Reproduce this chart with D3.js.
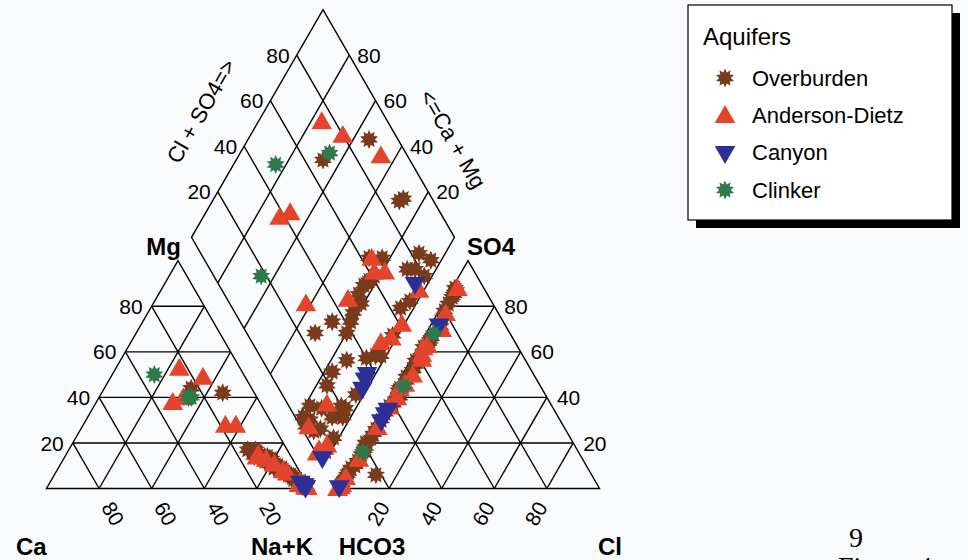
<!DOCTYPE html>
<html><head><meta charset="utf-8">
<script src="https://cdn.jsdelivr.net/npm/d3@7"></script>
<style>
html,body{margin:0;padding:0;background:#f9fafc;}
svg{display:block;}
text{font-family:Arial,"Liberation Sans",sans-serif;fill:#000;}
</style></head>
<body><svg id="c" width="968" height="560"></svg>
<script>
// ---- data: each sample = [Ca, Mg, Cl, SO4] in percent of meq (Na+K and HCO3 are the remainders)
const seriesNames = ["Overburden", "Anderson-Dietz", "Canyon", "Clinker"];
const overburden = [
  [12,42,2,87],[23,44,3,64],[12,17,2,85],[10,13,3,65],[9,14,3,54],[11,13,2,49],
  [8,13,3,47],[9,13,2,43],[7,10,2,22],[4,6,2,81],[5,6,4,71],[3,4,3,37],[2,2,4,40],
  [1,2,12,6],[4,5,1,6],[1,1,1,9],[6,8,2,30],[2,3,2,15],[1,2,2,26],[10,12,3,58],
  [4,4,3,75],[2,3,2,62],[13,15,1,88],[1,1,1,3],[2,2,1,20],[3,4,2,12],[1,1,3,52],
  [14,14,2,33],[6,9,1,4],[2,1,2,78],
  [8,12,2,36],[9,12,3,39],[7,9,2,17],[6,7,2,10],[5,6,1,3],[10,14,3,52],[11,12,2,56],
  [1,2,3,66],[2,2,2,84],[1,1,2,44],[3,3,2,18],[12,16,3,60],[7,8,1,1],[9,9,1,2],
  [15,17,2,24],[8,10,1,7]
];
const andersonDietz = [
  [23,53,3,72],[16,49,3,77],[18,28,2,88],[33,38,2,36],[28,40,3,40],[14,28,2,27],
  [10,13,3,59],[8,11,3,63],[12,15,2,44],[5,7,2,13],[1,1,5,70],[0.5,0.6,4,57],
  [2,3,3,46],[1,1,4,50],[1,2,1,5],[2,3,0.3,0.2],[3,2,1,1],[13,14,2,62],[6,8,1,2]
];
const canyon = [
  [2,3,3,72],[1.5,2,2,35],[1,2,2,33],[1,1,2,30],[1,1,0.5,1]
];
const clinker = [
  [34,50,3,45],[26,40,3,68],[25,40,2,16]
];
const seriesData = [overburden, andersonDietz, canyon, clinker];
const seriesColors = ["#7a3a1c", "#e2452c", "#2c2f96", "#2f7a4c"];
const gridTicks = [20, 40, 60, 80];

// ---- geometry
const svg = d3.select("#c");
const S = 263, X0 = 46.5, BY = 488.5, GAP = 27, H = S * Math.sqrt(3) / 2;
const f = d3.scaleLinear().domain([0, 100]).range([0, 1]);
const A = [X0, BY], B = [X0 + S, BY], C = [X0 + S / 2, BY - H];          // Ca, Na+K, Mg
const D = [X0 + S + GAP, BY], E = [D[0] + S, BY], F = [D[0] + S / 2, BY - H]; // HCO3, Cl, SO4
const G = [X0 + S + GAP / 2, BY - GAP * Math.sqrt(3) / 2];
const Lv = [G[0] - S / 2, G[1] - H], Rv = [G[0] + S / 2, G[1] - H];

function bary(P1, P2, P3, a, b, c) {
  const t = a + b + c;
  return [(P1[0]*a + P2[0]*b + P3[0]*c) / t, (P1[1]*a + P2[1]*b + P3[1]*c) / t];
}
const cat = (ca, mg) => bary(A, B, C, ca, 100 - ca - mg, mg);
const ani = (cl, so4) => bary(D, E, F, 100 - cl - so4, cl, so4);
const dia = (cs, cm) => [G[0] + f(cs) * (Rv[0] - G[0]) + f(cm) * (Lv[0] - G[0]),
                         G[1] + f(cs) * (Rv[1] - G[1]) + f(cm) * (Lv[1] - G[1])];

const gLines = svg.append("g").attr("stroke", "#000").attr("stroke-width", 1.4).attr("fill", "none");
const line = d3.line();
function seg(p, q) { gLines.append("path").attr("d", line([p, q])); }

gLines.append("path").attr("d", line([A, B, C]) + "Z");
gLines.append("path").attr("d", line([D, E, F]) + "Z");
gLines.append("path").attr("d", line([G, Rv, dia(100, 100), Lv]) + "Z");
gridTicks.forEach(k => {
  seg(cat(100 - k, k), cat(0, k));
  seg(cat(k, 100 - k), cat(k, 0));
  seg(cat(100 - k, 0), cat(0, 100 - k));
  seg(ani(0, k), ani(100 - k, k));
  seg(ani(k, 100 - k), ani(k, 0));
  seg(ani(100 - k, 0), ani(0, 100 - k));
  seg(dia(k, 0), dia(k, 100));
  seg(dia(0, k), dia(100, k));
});

// tick labels
const tl = svg.append("g").attr("font-size", 21);
gridTicks.forEach(k => {
  let p = cat(100 - k, k);
  tl.append("text").attr("x", p[0] - 9).attr("y", p[1]).attr("text-anchor", "end").attr("dy", "0.36em").text(k);
  p = ani(100 - k, k);
  tl.append("text").attr("x", p[0] + 10).attr("y", p[1]).attr("text-anchor", "start").attr("dy", "0.36em").text(k);
  p = cat(k, 0);
  tl.append("text").attr("transform", `translate(${p[0] + 14},${p[1] + 25}) rotate(60)`).attr("text-anchor", "middle").attr("dy", "0.36em").text(k);
  p = ani(k, 0);
  tl.append("text").attr("transform", `translate(${p[0] - 11},${p[1] + 25}) rotate(-60)`).attr("text-anchor", "middle").attr("dy", "0.36em").text(k);
  p = dia(k, 100);
  tl.append("text").attr("x", p[0] - 7).attr("y", p[1]).attr("text-anchor", "end").attr("dy", "0.36em").text(k);
  p = dia(100, k);
  tl.append("text").attr("x", p[0] + 8).attr("y", p[1]).attr("text-anchor", "start").attr("dy", "0.36em").text(k);
});
tl.append("text").attr("transform", "translate(201,111) rotate(-60)").attr("text-anchor", "middle").attr("dy", "0.36em").attr("font-size", 22).text("Cl + SO4=>");
tl.append("text").attr("transform", "translate(453,139) rotate(60)").attr("text-anchor", "middle").attr("dy", "0.36em").attr("font-size", 22).text("<=Ca + Mg");

// corner labels
const cl = svg.append("g").attr("font-size", 24).attr("font-weight", "bold");
cl.append("text").attr("x", 16).attr("y", 555).text("Ca");
cl.append("text").attr("x", 282).attr("y", 555).attr("text-anchor", "middle").text("Na+K");
cl.append("text").attr("x", 372).attr("y", 555).attr("text-anchor", "middle").text("HCO3");
cl.append("text").attr("x", 598).attr("y", 555).text("Cl");
cl.append("text").attr("x", 181).attr("y", 255).attr("text-anchor", "end").text("Mg");
cl.append("text").attr("x", 467).attr("y", 255).text("SO4");

// markers
function starPath(ro, ri, n) {
  const pts = d3.range(2 * n).map(i => {
    const r = i % 2 ? ri : ro, a = Math.PI * i / n - Math.PI / 2;
    return [r * Math.cos(a), r * Math.sin(a)];
  });
  return line(pts) + "Z";
}
const shapes = [
  starPath(9.5, 5.8, 10),
  d3.symbol(d3.symbolTriangle, 185)(),
  d3.symbol(d3.symbolTriangle, 185)(),
  starPath(9.5, 5.8, 10)
];
const rot = [0, 0, 180, 0];
const gm = svg.append("g");
seriesData.forEach((arr, si) => {
  arr.forEach(s => {
    const [ca, mg, clv, so4] = s;
    const pts = [cat(ca, mg), ani(clv, so4), dia(clv + so4, ca + mg)];
    pts.forEach(p => {
      gm.append("path").attr("d", shapes[si]).attr("fill", seriesColors[si])
        .attr("transform", `translate(${p[0]},${p[1] + (si === 1 ? 2 : 0)}) rotate(${rot[si]})`);
    });
  });
});

// legend
const lg = svg.append("g");
lg.append("rect").attr("x", 696).attr("y", 13).attr("width", 264).attr("height", 215).attr("fill", "#000");
lg.append("rect").attr("x", 688).attr("y", 5).attr("width", 264).attr("height", 215).attr("fill", "#fff").attr("stroke", "#000").attr("stroke-width", 1.2);
lg.append("text").attr("x", 703).attr("y", 45).attr("font-size", 24).text("Aquifers");
const ly = [78, 115, 152, 190];
seriesNames.forEach((n, i) => {
  lg.append("path").attr("d", shapes[i]).attr("fill", seriesColors[i])
    .attr("transform", `translate(725,${ly[i] + (i === 1 ? 2 : 0)}) rotate(${rot[i]})`);
  lg.append("text").attr("x", 752).attr("y", ly[i]).attr("dy", "0.36em").attr("font-size", 22).text(n);
});

// page number and caption (cut at the page edge as in the source)
svg.append("text").attr("x", 856).attr("y", 547).attr("text-anchor", "middle").attr("font-size", 28)
  .style("font-family", "'Liberation Serif','Times New Roman',serif").text("9");
svg.append("text").attr("x", 838).attr("y", 576).attr("font-size", 28)
  .style("font-family", "'Liberation Serif','Times New Roman',serif").text("Figure 4");
</script></body></html>
